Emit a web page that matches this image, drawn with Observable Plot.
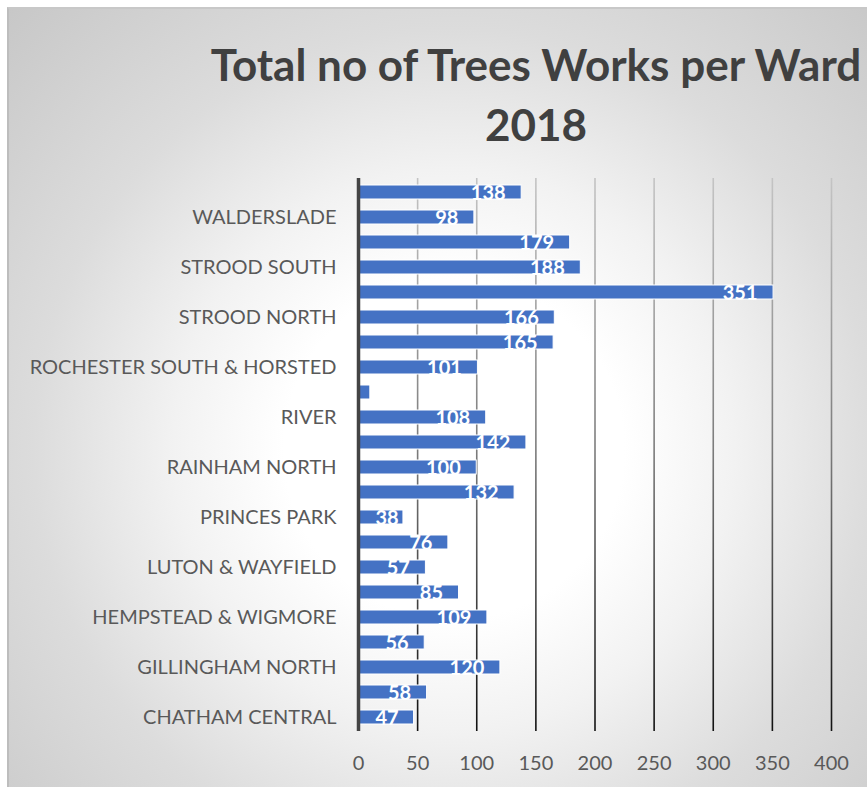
<!DOCTYPE html>
<html>
<head>
<meta charset="utf-8">
<script src="https://cdn.jsdelivr.net/npm/d3@7"></script>
<script src="https://cdn.jsdelivr.net/npm/@observablehq/plot@0.6"></script>
<style>
  html, body { margin: 0; padding: 0; background: #ffffff; overflow: hidden; width: 867px; height: 787px; }
  #box {
    position: absolute; left: 7px; top: 7px; width: 1064px; height: 800px;
    border-left: 2px solid #bdbdbd; border-top: 2px solid #c8c8c8;
    background: radial-gradient(circle 640px at 445px 440px, #ffffff 0px, #ffffff 170px, #f2f2f2 280px, #dcdcdc 420px, #c6c6c6 640px);
  }
  #title {
    position: absolute; left: 4px; top: 34px; width: 1064px; text-align: center;
    font-family: Lato, "Open Sans", sans-serif; font-weight: bold; font-size: 44px; line-height: 60px;
    color: #404040; white-space: nowrap;
  }
  #chart { position: absolute; left: 0; top: 0; }
</style>
</head>
<body>
<div id="box"></div>
<div id="title">Total no of Trees Works per Ward<br>2018</div>
<div id="chart"></div>
<script>
// Wards, bottom to top (alphabetical)
const wards = [
  "CHATHAM CENTRAL", "CUXTON & HALLING", "GILLINGHAM NORTH", "GILLINGHAM SOUTH",
  "HEMPSTEAD & WIGMORE", "LORDSWOOD & CAPSTONE", "LUTON & WAYFIELD", "PENINSULA",
  "PRINCES PARK", "RAINHAM CENTRAL", "RAINHAM NORTH", "RAINHAM SOUTH",
  "RIVER", "ROCHESTER EAST", "ROCHESTER SOUTH & HORSTED", "ROCHESTER WEST",
  "STROOD NORTH", "STROOD RURAL", "STROOD SOUTH", "TWYDALL",
  "WALDERSLADE", "WATLING"
];
const works = [47, 58, 120, 56, 109, 85, 57, 76, 38, 132, 100, 142, 108, 10, 101, 165, 166, 351, 188, 179, 98, 138];
const xTicks = [0, 50, 100, 150, 200, 250, 300, 350, 400];
// only every other category label is shown on the axis
const shownLabels = wards.filter((d, i) => i % 2 === 0);

const data = wards.map((w, i) => ({ward: w, value: works[i]}));

const chart = Plot.plot({
  width: 867,
  height: 787,
  marginLeft: 358,
  marginRight: 36,
  marginTop: 178,
  marginBottom: 56,
  style: {background: "transparent", fontFamily: "Lato, 'Open Sans', sans-serif", fontSize: "20px", color: "#595959", overflow: "visible"},
  x: {domain: [0, 400], ticks: xTicks, tickSize: 0, tickPadding: 24, label: null},
  y: {domain: wards.slice().reverse(), paddingInner: 0.44, paddingOuter: 0.22, tickSize: 0, tickPadding: 22,
      tickFormat: d => shownLabels.includes(d) ? d : "", label: null},
  marks: [
    Plot.ruleX(xTicks.filter(t => t > 0), {stroke: "url(#gridGrad)", strokeWidth: 1.6}),
    Plot.barX(data, {x: "value", y: "ward", fill: "#4472C4", stroke: "white", strokeWidth: 1}),
    Plot.ruleX([0], {stroke: "#444444", strokeWidth: 3.5}),
    Plot.text(data, {x: "value", y: "ward", text: d => String(d.value), textAnchor: "end", dx: -16, dy: 1,
      fill: "white", fontWeight: "bold", fontSize: 20})
  ]
});

document.getElementById("chart").appendChild(chart);

// gradient for the gridlines (light at top, dark at bottom), spanning the y scale's range
const yr = chart.scale("y").range;
const ns = "http://www.w3.org/2000/svg";
const defs = document.createElementNS(ns, "defs");
const lg = document.createElementNS(ns, "linearGradient");
lg.setAttribute("id", "gridGrad");
lg.setAttribute("gradientUnits", "userSpaceOnUse");
lg.setAttribute("x1", 0); lg.setAttribute("x2", 0);
lg.setAttribute("y1", Math.min(...yr)); lg.setAttribute("y2", Math.max(...yr));
[["0%", "#c4c4c4"], ["50%", "#7a7a7a"], ["100%", "#111111"]].forEach(([o, c]) => {
  const s = document.createElementNS(ns, "stop");
  s.setAttribute("offset", o); s.setAttribute("stop-color", c);
  lg.appendChild(s);
});
defs.appendChild(lg);
chart.insertBefore(defs, chart.firstChild);

// keep value labels from starting left of the axis (as the source layout does)
const xs = chart.scale("x");
const x0 = xs.apply(0);
const textGroups = chart.querySelectorAll('g[aria-label="text"]');
const labelGroup = textGroups[textGroups.length - 1];
if (labelGroup) {
  labelGroup.querySelectorAll("text").forEach(t => {
    const v = +t.textContent;
    const w = t.getBBox().width;
    const start = xs.apply(v) - 16 - w;
    const minX = x0 + 17;
    if (start < minX) {
      const shift = minX - start;
      t.setAttribute("transform", (t.getAttribute("transform") || "") + ` translate(${shift},0)`);
    }
  });
}
</script>
</body>
</html>
